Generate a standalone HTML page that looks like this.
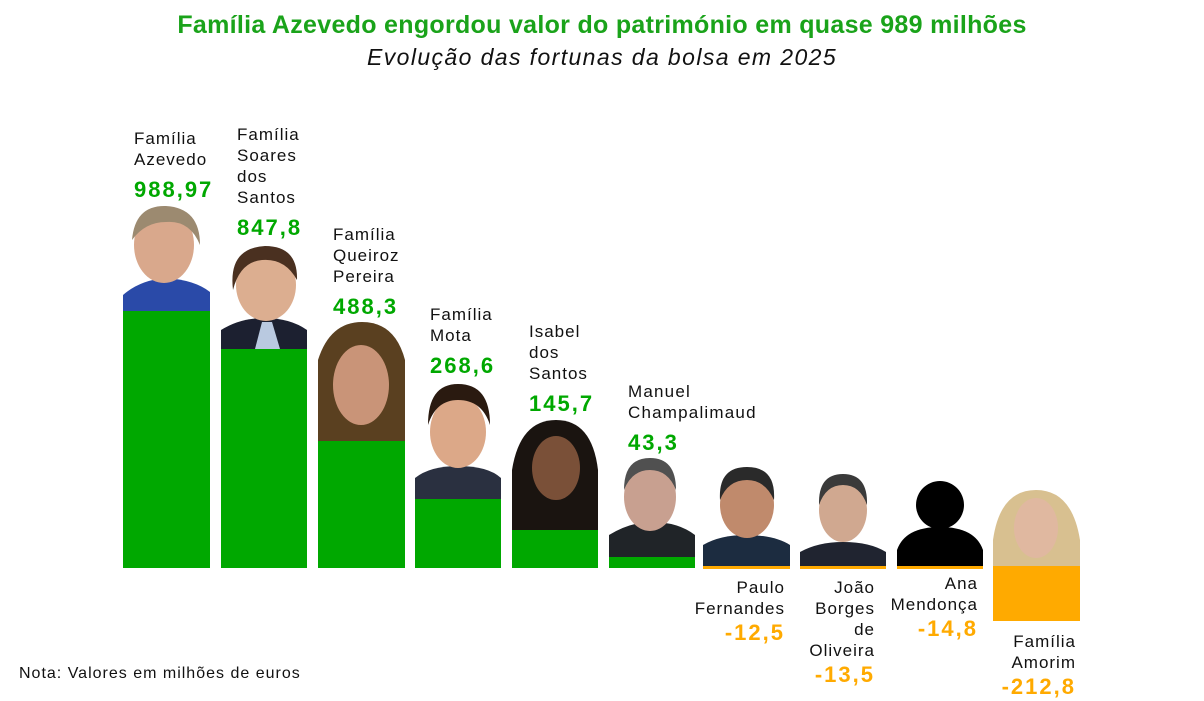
<!DOCTYPE html>
<html><head><meta charset="utf-8"><style>
body{margin:0;width:1204px;height:701px;background:#fff;position:relative;overflow:hidden;font-family:"Liberation Sans",sans-serif}
.t{position:absolute;left:0;width:1204px;text-align:center}
.b{position:absolute}
.l{position:absolute;font-size:17px;line-height:21px;color:#111;letter-spacing:1px}
.v{font-size:22px;font-weight:bold;line-height:28px;margin-top:6px;letter-spacing:2px}
.g{color:#00a800}.o{color:#ffaa00}
.r{text-align:right}
svg{position:absolute}
</style></head><body>
<div class="t" style="top:11px;font-size:25px;font-weight:bold;color:#1aa31a;letter-spacing:0.3px">Família Azevedo engordou valor do património em quase 989 milhões</div>
<div class="t" style="top:44px;font-size:23px;font-style:italic;color:#111;letter-spacing:1.4px">Evolução das fortunas da bolsa em 2025</div>

<svg width="1204" height="701" style="left:0;top:0">
<path d="M123 311 L123 295 Q140 280 166 278 Q195 280 210 292 L210 311Z" fill="#2a4aa8"/>
<ellipse cx="164" cy="245" rx="30" ry="38" fill="#d9a88c"/>
<path d="M132 240 Q135 205 166 206 Q200 208 200 245 Q190 220 166 222 Q145 222 132 240Z" fill="#9c8a70"/>
<path d="M221 349 L221 330 Q240 318 264 318 Q290 318 307 330 L307 349Z" fill="#1c2030"/>
<path d="M255 349 L262 322 L272 322 L280 349Z" fill="#b9c9e0"/>
<ellipse cx="266" cy="285" rx="30" ry="36" fill="#dcae90"/>
<path d="M233 290 Q228 248 265 246 Q298 246 297 280 Q285 258 262 260 Q240 262 233 290Z" fill="#4a3020"/>
<path d="M318 441 L318 360 Q330 322 362 322 Q395 322 405 360 L405 441Z" fill="#5a4020"/>
<ellipse cx="361" cy="385" rx="28" ry="40" fill="#c99478"/>
<path d="M415 499 L415 478 Q430 466 458 466 Q488 466 501 478 L501 499Z" fill="#2a3040"/>
<ellipse cx="458" cy="432" rx="28" ry="36" fill="#dca888"/>
<path d="M428 425 Q428 384 458 384 Q490 384 490 425 Q482 400 458 400 Q436 400 428 425Z" fill="#2a1a10"/>
<path d="M512 530 L512 470 Q520 420 556 420 Q592 420 598 470 L598 530Z" fill="#1a1410"/>
<ellipse cx="556" cy="468" rx="24" ry="32" fill="#7a5038"/>
<path d="M609 557 L609 535 Q630 522 652 522 Q678 522 695 535 L695 557Z" fill="#202428"/>
<ellipse cx="650" cy="497" rx="26" ry="34" fill="#c8a090"/>
<path d="M624 490 Q624 458 650 458 Q676 458 676 490 Q668 470 650 470 Q632 470 624 490Z" fill="#505050"/>
<path d="M703 566 L703 545 Q720 535 746 535 Q774 535 790 545 L790 566Z" fill="#1c2c40"/>
<ellipse cx="747" cy="505" rx="27" ry="33" fill="#c08a6c"/>
<path d="M720 500 Q718 467 747 467 Q776 467 774 500 Q765 480 747 480 Q728 480 720 500Z" fill="#2a2a2a"/>
<path d="M800 566 L800 552 Q818 542 843 542 Q870 542 886 552 L886 566Z" fill="#202430"/>
<ellipse cx="843" cy="510" rx="24" ry="32" fill="#d0a890"/>
<path d="M819 505 Q818 474 843 474 Q868 474 867 505 Q860 485 843 485 Q826 485 819 505Z" fill="#3a3a3a"/>
<path d="M897 566 L897 550 Q905 527 940 527 Q975 527 983 550 L983 566Z" fill="#000"/>
<circle cx="940" cy="505" r="24" fill="#000"/>
<path d="M993 566 L993 540 Q1000 490 1036 490 Q1072 490 1080 540 L1080 566Z" fill="#d8c090"/>
<ellipse cx="1036" cy="528" rx="22" ry="30" fill="#e0b8a0"/>
</svg>

<div class="b" style="left:123px;top:311px;width:87px;height:257px;background:#00a800"></div>
<div class="b" style="left:221px;top:349px;width:86px;height:219px;background:#00a800"></div>
<div class="b" style="left:318px;top:441px;width:87px;height:127px;background:#00a800"></div>
<div class="b" style="left:415px;top:499px;width:86px;height:69px;background:#00a800"></div>
<div class="b" style="left:512px;top:530px;width:86px;height:38px;background:#00a800"></div>
<div class="b" style="left:609px;top:557px;width:86px;height:11px;background:#00a800"></div>
<div class="b" style="left:703px;top:566px;width:87px;height:3px;background:#ffaa00"></div>
<div class="b" style="left:800px;top:566px;width:86px;height:3px;background:#ffaa00"></div>
<div class="b" style="left:897px;top:566px;width:86px;height:3px;background:#ffaa00"></div>
<div class="b" style="left:993px;top:566px;width:87px;height:55px;background:#ffaa00"></div>

<div class="l" style="left:134px;top:128px">Família<br>Azevedo<div class="v g">988,97</div></div>
<div class="l" style="left:237px;top:124px">Família<br>Soares<br>dos<br>Santos<div class="v g">847,8</div></div>
<div class="l" style="left:333px;top:224px">Família<br>Queiroz<br>Pereira<div class="v g">488,3</div></div>
<div class="l" style="left:430px;top:304px">Família<br>Mota<div class="v g">268,6</div></div>
<div class="l" style="left:529px;top:321px">Isabel<br>dos<br>Santos<div class="v g">145,7</div></div>
<div class="l" style="left:628px;top:381px;letter-spacing:1.2px">Manuel<br>Champalimaud<div class="v g">43,3</div></div>
<div class="l r" style="left:630px;width:155px;top:577px">Paulo<br>Fernandes<div class="v o" style="margin-top:0">-12,5</div></div>
<div class="l r" style="left:730px;width:145px;top:577px">João<br>Borges<br>de<br>Oliveira<div class="v o" style="margin-top:0">-13,5</div></div>
<div class="l r" style="left:830px;width:148px;top:573px">Ana<br>Mendonça<div class="v o" style="margin-top:0">-14,8</div></div>
<div class="l r" style="left:930px;width:146px;top:631px">Família<br>Amorim<div class="v o" style="margin-top:0">-212,8</div></div>

<div class="l" style="left:19px;top:663px;font-size:16px;letter-spacing:1px">Nota: Valores em milhões de euros</div>
</body></html>
